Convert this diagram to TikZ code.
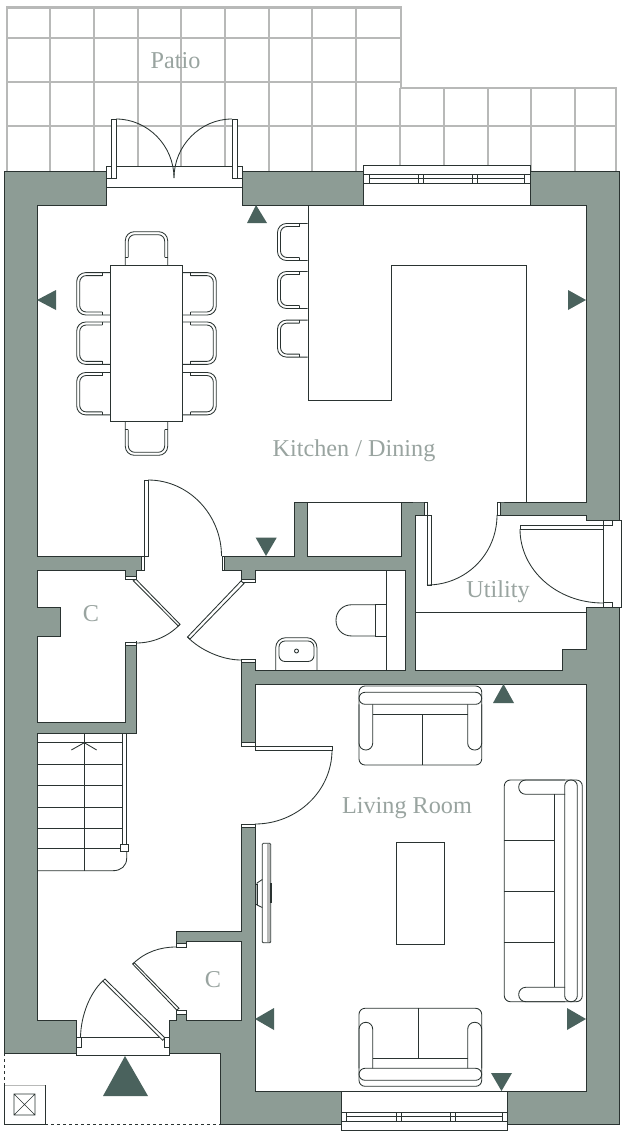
\documentclass[tikz,border=0pt]{standalone}
\usepackage{fontspec}
\setmainfont{Liberation Serif}
\definecolor{wallc}{HTML}{8D9C95}
\definecolor{ink}{HTML}{2A3331}
\definecolor{arrowc}{HTML}{4A625D}
\definecolor{labelc}{HTML}{99A4A0}
\definecolor{patioc}{HTML}{B8B9B8}
\tikzset{
 ln/.style={draw=ink,line width=0.85pt,line join=miter},
 rm/.style={ln,fill=white},
 er/.style={fill=white,draw=none},
 patioln/.style={draw=patioc,line width=1.1pt},
 patioout/.style={draw=patioc,line width=2.4pt},
 mark tri/.style={fill=arrowc,draw=none},
 lbl/.style={text=labelc,font=\fontsize{24.2}{27}\selectfont,inner sep=0pt,anchor=base},
 pics/chairp/.style 2 args={code={
   \draw[ln,fill=white,rounded corners=9pt] (0,-#2/2)--(-#1,-#2/2)--(-#1,#2/2)--(0,#2/2);
   \draw[ln,rounded corners=6.5pt] (-8,-#2/2+3)--(-#1+3,-#2/2+3)--(-#1+3,#2/2-3)--(-8,#2/2-3);
   \draw[ln] (-8,-#2/2)--(-8,-#2/2+3) (-8,#2/2-3)--(-8,#2/2);
 }}
}
\begin{document}
\begin{tikzpicture}[x=1pt,y=-1pt]
\useasboundingbox (0,0) rectangle (626,1137);
\fill[white] (0,0) rectangle (626,1137);
% patio
\foreach \xx in {50,94,138,181,225,269,312,356}{\draw[patioln] (\xx,8)--(\xx,171);}
\foreach \xx in {400,444,488,531,575}{\draw[patioln] (\xx,88)--(\xx,171);}
\draw[patioln] (7,38)--(400,38);
\draw[patioln] (7,82)--(400,82);
\draw[patioln] (7,126)--(615,126);
\draw[patioln] (400,88)--(400,171);
\draw[patioout] (7,171)--(7,7.5)--(401,7.5)--(401,88)--(616,88)--(616,171);
% house
\draw[ln,fill=wallc] (4,171)--(619,171)--(619,1124)--(220.5,1124)--(220.5,1053)--(4,1053)--cycle;
% kitchen
\draw[rm] (37,205)--(106,205)--(106,166)--(242,166)--(242,205)--(586,205)--(586,502)--(424,502)--(401,502)--(401,556)--(307,556)--(307,502)--(294,502)--(294,556)--(37,556)--cycle;
\draw[er] (107,170) rectangle (241,210);
\draw[ln] (106,166)--(242,166);
\draw[ln] (106,187)--(242,187);
% top window
\draw[rm] (363,165) rectangle (530,205);
\draw[ln] (363,174)--(530,174) (363,183)--(530,183);
\draw[ln] (369,178)--(524,178);
\foreach \xx in {369,418,423,472,477,524}{\draw[ln] (\xx,174)--(\xx,183);}
% kitchen units
\draw[ln] (307,502)--(401,502);
\draw[ln] (308,205)--(308,400)--(391,400)--(391,265)--(526,265)--(526,502);
% utility
\draw[rm] (415,515)--(586,515)--(586,520.5)--(621.5,520.5)--(621.5,607.5)--(586,607.5)--(586,649)--(562,649)--(562,670)--(415,670)--cycle;
\draw[ln] (415,612)--(586,612);
\draw[ln] (603,520.5)--(603,607.5);
\draw[er] (427.5,500) rectangle (496.5,516.5);
\draw[rm] (424,502) rectangle (427,515);
\draw[rm] (497,502) rectangle (500,515);
% C left
\draw[rm] (37,570)--(125.3,570)--(125.3,579)--(136,579)--(136,642)--(125.3,642)--(125.3,722)--(37,722)--(37,636)--(60.5,636)--(60.5,607)--(37,607)--cycle;
% WC
\draw[rm] (241,582)--(255,582)--(255,570)--(405,570)--(405,670)--(255,670)--(255,660)--(241,660)--cycle;
% living
\draw[rm] (255,684)--(586,684)--(586,1091)--(255,1091)--cycle;
% C2
\draw[rm] (176,947)--(186,947)--(186,941)--(241,941)--(241,1020)--(186,1020)--(186,1010)--(176,1010)--cycle;
% hall
\draw[rm] (37,733)--(136,733)--(136,570)--(144,570)--(144,556)--(222,556)--(222,570)--(241,570)--(241,931)--(176,931)--(176,1020)--(169.3,1020)--(169.3,1037)--(76,1037)--(76,1020)--(37,1020)--cycle;
% openings
\draw[er] (137,580) rectangle (124,641);
\draw[er] (240,583) rectangle (256,659);
\draw[er] (240,746.5) rectangle (256,824);
\draw[er] (175,948) rectangle (187,1009);
\draw[er] (144.4,555) rectangle (221.6,571);
% jambs
\draw[rm] (141,556) rectangle (144,570);
\draw[rm] (222,556) rectangle (224,570);
\draw[rm] (125.3,576) rectangle (136,579);
\draw[rm] (125.3,642) rectangle (136,645);
\draw[rm] (241,579) rectangle (255,582);
\draw[rm] (241,659.5) rectangle (255,662);
\draw[rm] (241,742.7) rectangle (255,746);
\draw[rm] (241,824) rectangle (255,827);
\draw[rm] (176,943) rectangle (186,947);
\draw[rm] (176,1010) rectangle (186,1014);
% front door
\draw[rm] (76,1037) rectangle (169.3,1055);
\draw[rm] (76,1037) rectangle (81,1047);
\draw[rm] (164,1037) rectangle (169.3,1047);
% french door
\draw[rm] (106,166) rectangle (111,178);
\draw[rm] (237,166) rectangle (242,178);
\draw[rm] (111,119) rectangle (116,178);
\draw[rm] (232,119) rectangle (237,178);
\draw[ln] (116,119) .. controls (148,119) and (174,146) .. (174,178);
\draw[ln] (232,119) .. controls (200,119) and (174,146) .. (174,178);
% kitchen door
\draw[rm] (144,480) rectangle (148,556);
\draw[ln] (148,480) .. controls (189,480) and (221.5,515) .. (221.5,556);
% utility doors
\draw[rm] (427,515) rectangle (431,585);
\draw[ln] (427,585) .. controls (466,585) and (497,554) .. (497,515);
\draw[rm] (520,525.7) rectangle (603,529);
\draw[ln] (520,529) .. controls (520,570) and (557,603) .. (603,603);
\draw[rm] (603,520.5) rectangle (612.6,525.7);
\draw[rm] (603,602.7) rectangle (612.6,607.5);
% diagonal leaves
\draw[rm] (133.3,580.7)--(136,579.3)--(180,624.3)--(178.3,626)--cycle;
\draw[ln] (180,624.3) .. controls (168,637) and (152,643) .. (136,643);
\draw[rm] (241,581)--(244,583.5)--(190,639)--(187.5,637)--cycle;
\draw[ln] (187.5,637) .. controls (200,650) and (222,660) .. (241,660);
\draw[rm] (132.7,964)--(134.3,962.7)--(179,1008.3)--(176.7,1010)--cycle;
\draw[ln] (132.7,964) .. controls (145,952) and (160,947) .. (176,947);
\draw[rm] (105,979)--(102.7,981)--(162.7,1040.3)--(164.7,1037.7)--cycle;
\draw[ln] (102.7,981) .. controls (90,993) and (81,1015) .. (80.5,1037);
\draw[rm] (255,746) rectangle (332,750);
\draw[ln] (332,750) .. controls (332,791) and (297,824) .. (255,824);
% dining
\foreach \yy in {293.8,343.2,393.7}{
 \path (110.3,\yy) pic {chairp={33.6}{42.4}};
 \path (182.7,\yy) pic[xscale=-1] {chairp={33.6}{42.4}};
}
\path (146.5,265.3) pic[rotate=-90] {chairp={33.6}{42.4}};
\path (146.5,421.7) pic[rotate=90] {chairp={33.6}{42.4}};
\draw[rm] (110.3,265.3) rectangle (182.7,421.7);
\foreach \yy in {242,290,338.6}{\path (307.5,\yy) pic {chairp={30}{37}};}
\draw[ln] (308,205)--(308,400);
% WC fittings
\draw[ln] (386,570)--(386,670);
\draw[ln] (275.7,670)[rounded corners=10pt]--(275.7,637.7)--(317,637.7)--(317,670);
\draw[ln,rounded corners=6pt] (279,641) rectangle (314,661.5);
\draw[ln] (296.5,651) circle[radius=2pt];
\draw[ln] (375,604.7)--(352,604.7) .. controls (342,604.7) and (336,612) .. (336,620.3) .. controls (336,629) and (342,636) .. (352,636)--(375,636);
\draw[ln] (375,604.7) rectangle (386,636);
% stairs
\foreach \yy in {742.7,764.3,785.7,807,828.3,848.7}{\draw[ln] (37,\yy)--(122.3,\yy);}
\draw[ln] (84.3,734)--(84.3,870.7);
\draw[ln] (71.3,750)--(84.3,742.7)--(96.7,750);
\draw[ln] (122.3,733)--(122.3,844);
\draw[ln] (126.7,733)--(126.7,844);
\draw[rm] (120.7,844) rectangle (128.7,851.7);
\draw[ln] (37,870.7)--(113,870.7) .. controls (121,870.7) and (126.7,866) .. (126.7,858)--(126.7,851.7);
% sofas
\draw[ln,rounded corners=6pt] (359,686) rectangle (481.7,765);
\draw[ln,rounded corners=6pt] (359,692.3) rectangle (481.7,704.3);
\draw[ln,rounded corners=6.8pt] (359,704.3)--(359,750)--(372.7,750)--(372.7,704.3);
\draw[ln,rounded corners=6.8pt] (467.7,704.3)--(467.7,750)--(481.7,750)--(481.7,704.3);
\draw[ln] (372.7,714.3)--(467.7,714.3);
\draw[ln] (422.3,714.3)--(422.3,765);
\draw[ln,rounded corners=6pt] (359,1008.3) rectangle (481.7,1086.3);
\draw[ln,rounded corners=6pt] (359,1068.3) rectangle (481.7,1080.3);
\draw[ln,rounded corners=6.8pt] (359,1068.3)--(359,1022.3)--(372.7,1022.3)--(372.7,1068.3);
\draw[ln,rounded corners=6.8pt] (467.7,1068.3)--(467.7,1022.3)--(481.7,1022.3)--(481.7,1068.3);
\draw[ln] (372.7,1058.3)--(467.7,1058.3);
\draw[ln] (418.3,1008.3)--(418.3,1058.3);
\draw[ln,rounded corners=6pt] (504.3,780) rectangle (582.3,1001.7);
\draw[ln,rounded corners=6pt] (564.7,780) rectangle (577.3,1001.7);
\draw[ln,rounded corners=7pt] (565,780)--(518.7,780)--(518.7,794.3)--(565,794.3);
\draw[ln,rounded corners=7pt] (565,1001.7)--(518.7,1001.7)--(518.7,987.3)--(565,987.3);
\draw[ln] (554.7,794.3)--(554.7,987.3);
\foreach \yy in {840.3,891.3,942.3}{\draw[ln] (504.3,\yy)--(554.7,\yy);}
\draw[ln] (396.7,842) rectangle (444,944);
% TV
\draw[ln,fill=white,rounded corners=1pt] (262.3,843.3) rectangle (270.7,942.7);
\fill[patioc] (266.5,844) rectangle (270.3,942);
\draw[ln] (262.3,879.5)--(257,883)--(257,905)--(262.3,907.5);
\draw[ln] (255,884) rectangle (257,904);
\draw[ln,fill=patioc] (270.7,883) rectangle (271.7,902);
% bottom window
\draw[rm] (341,1091) rectangle (507,1130);
\draw[ln] (341,1112)--(507,1112) (341,1121)--(507,1121);
\draw[ln] (346.3,1116.7)--(502.3,1116.7);
\foreach \xx in {346.3,396.7,401.7,450.7,455.7,502.3}{\draw[ln] (\xx,1112)--(\xx,1121);}
% porch
\draw[ln,dashed] (4,1053)--(4,1085);
\draw[draw=patioc,line width=0.9pt] (4,1085)--(45,1085);
\draw[ln] (4,1085)--(4,1124)--(45,1124)--(45,1085);
\draw[ln,dashed] (45,1124)--(220.5,1124);
\draw[ln,line width=0.6pt] (14,1094) rectangle (35,1115) (14,1094)--(35,1115) (35,1094)--(14,1115);
% view markers
\fill[mark tri] (125,1056)--(103,1096)--(148,1096)--cycle;
\fill[mark tri] (256,205)--(247,223)--(267,223)--cycle;
\fill[mark tri] (37,300)--(56,290)--(56,310)--cycle;
\fill[mark tri] (586,300)--(568,290)--(568,310)--cycle;
\fill[mark tri] (266,556)--(255.7,537.7)--(276.7,537.7)--cycle;
\fill[mark tri] (503.5,684)--(493,703)--(514,703)--cycle;
\fill[mark tri] (255,1019)--(274,1008)--(274,1030)--cycle;
\fill[mark tri] (586,1019)--(567,1008)--(567,1030)--cycle;
\fill[mark tri] (501.5,1091)--(491,1073)--(512,1073)--cycle;
% labels
\node[lbl] (patio) at (175.5,69) {Patio};
\node[lbl] (kitchen) at (354,456) {Kitchen / Dining};
\node[lbl] (utility) at (498,597) {Utility};
\node[lbl] (living) at (407,813) {Living Room};
\node[lbl] (cA) at (91,621) {C};
\node[lbl] (cB) at (213,987) {C};
\end{tikzpicture}
\end{document}
